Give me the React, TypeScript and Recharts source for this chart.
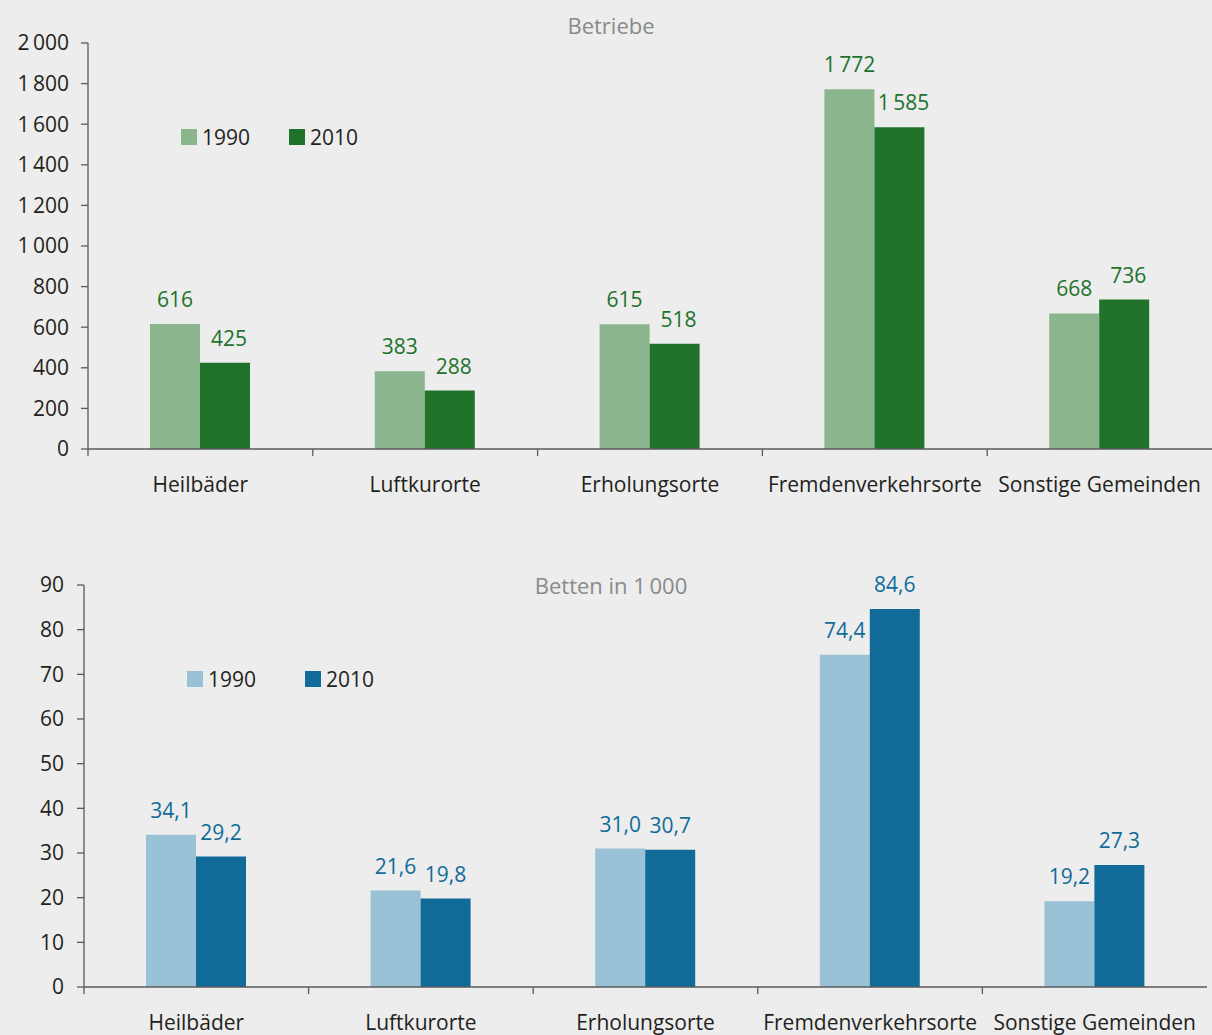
import React from 'react'
import { BarChart, Bar, XAxis, YAxis, Legend, LabelList } from 'recharts'

const categories = ['Heilbäder', 'Luftkurorte', 'Erholungsorte', 'Fremdenverkehrsorte', 'Sonstige Gemeinden']
const seriesNames = ['1990', '2010']

const betriebe1990 = [616, 383, 615, 1772, 668]
const betriebe2010 = [425, 288, 518, 1585, 736]
const betriebeTicks = [0, 200, 400, 600, 800, 1000, 1200, 1400, 1600, 1800, 2000]

const betten1990 = [34.1, 21.6, 31.0, 74.4, 19.2]
const betten2010 = [29.2, 19.8, 30.7, 84.6, 27.3]
const bettenTicks = [0, 10, 20, 30, 40, 50, 60, 70, 80, 90]

const W = 1212
const FONT = '"Open Sans", "Noto Sans", sans-serif'
const TEXT = '#231f20'
const AXIS = '#5a5a5a'

const fmtThousands = (v: number) =>
  v >= 1000 ? `${Math.floor(v / 1000)}\u2009${String(v % 1000).padStart(3, '0')}` : String(v)
const fmtDecimal = (v: number) => v.toFixed(1).replace('.', ',')
const fmtInt = (v: number) => String(v)

const betriebeData = categories.map((name, i) => ({ name, a: betriebe1990[i], b: betriebe2010[i] }))
const bettenData = categories.map((name, i) => ({ name, a: betten1990[i], b: betten2010[i] }))

// category label plus a tick mark at the left edge of each band
function CategoryTick(props: any) {
  const { x, y, payload, band } = props
  return (
    <g>
      <line x1={x - band / 2} x2={x - band / 2} y1={y - 28} y2={y - 21} stroke={AXIS} strokeWidth={1.3} />
      <text x={x} y={y} dy="0.71em" textAnchor="middle" fill={TEXT} fontSize={21} fontFamily={FONT}>
        {payload.value}
      </text>
    </g>
  )
}

function LegendBox({ colors, gap }: { colors: string[]; gap: number }) {
  return (
    <div style={{ display: 'flex', alignItems: 'center', fontFamily: FONT, fontSize: 21, color: TEXT }}>
      {seriesNames.map((s, i) => (
        <div key={s} style={{ display: 'flex', alignItems: 'center', marginRight: i === 0 ? gap : 0 }}>
          <span style={{ width: 16, height: 16, background: colors[i], display: 'inline-block', marginRight: 5 }} />
          <span style={{ lineHeight: '22px' }}>{s}</span>
        </div>
      ))}
    </div>
  )
}

interface PanelProps {
  data: { name: string; a: number; b: number }[]
  height: number
  top: number
  right: number
  xHeight: number
  yWidth: number
  ticks: number[]
  domain: [number, number]
  fmt: (v: number) => string
  tickFmt: (v: number) => string
  colors: string[]
  labelColor: string
  legendPos: { left: number; top: number; gap: number }
  dx2: number
  tickMargin: number
}

function Panel(p: PanelProps) {
  const band = (W - p.yWidth - p.right) / categories.length
  return (
    <BarChart
      width={W}
      height={p.height}
      data={p.data}
      margin={{ top: p.top, right: p.right, left: 0, bottom: 0 }}
      barGap={0}
    >
      <XAxis
        dataKey="name"
        height={p.xHeight}
        tickSize={0}
        tickMargin={28}
        tickLine={false}
        axisLine={{ stroke: AXIS, strokeWidth: 1.3 }}
        interval={0}
        tick={<CategoryTick band={band} />}
      />
      <YAxis
        width={p.yWidth}
        domain={p.domain}
        ticks={p.ticks}
        interval={0}
        tickSize={7}
        tickMargin={p.tickMargin}
        tickFormatter={p.tickFmt}
        axisLine={{ stroke: AXIS, strokeWidth: 1.3 }}
        tickLine={{ stroke: AXIS, strokeWidth: 1.3 }}
        tick={{ fill: TEXT, fontSize: 21, fontFamily: FONT }}
      />
      <Legend
        layout="horizontal"
        verticalAlign="middle"
        align="center"
        wrapperStyle={{ left: p.legendPos.left, top: p.legendPos.top, width: 'auto', height: 'auto' }}
        content={() => <LegendBox colors={p.colors} gap={p.legendPos.gap} />}
      />
      <Bar dataKey="a" name={seriesNames[0]} fill={p.colors[0]} barSize={50} isAnimationActive={false}>
        <LabelList
          dataKey="a"
          position="top"
          offset={17}
          formatter={(v: any) => p.fmt(Number(v))}
          style={{ fill: p.labelColor, fontSize: 21, fontFamily: FONT }}
        />
      </Bar>
      <Bar dataKey="b" name={seriesNames[1]} fill={p.colors[1]} barSize={50} isAnimationActive={false}>
        <LabelList
          dataKey="b"
          position="top"
          offset={17}
          dx={p.dx2}
          formatter={(v: any) => p.fmt(Number(v))}
          style={{ fill: p.labelColor, fontSize: 21, fontFamily: FONT }}
        />
      </Bar>
    </BarChart>
  )
}

const titleStyle: React.CSSProperties = {
  position: 'absolute',
  left: 411,
  width: 400,
  textAlign: 'center',
  fontFamily: FONT,
  fontSize: 22,
  color: '#8a8a8a',
  height: 30,
  lineHeight: '30px',
}

export default function App() {
  return (
    <div
      style={{
        position: 'absolute',
        left: 0,
        top: 0,
        width: W,
        height: 1035,
        background: '#ecedec',
        overflow: 'hidden',
        fontFamily: FONT,
      }}
    >
      <div style={{ position: 'absolute', left: 0, top: 0 }}>
        <Panel
          data={betriebeData}
          height={520}
          top={43}
          right={0}
          xHeight={71}
          yWidth={88}
          ticks={betriebeTicks}
          domain={[0, 2000]}
          fmt={fmtThousands}
          tickFmt={fmtThousands}
          colors={['#8bb68d', '#21732c']}
          labelColor="#21732c"
          legendPos={{ left: 181, top: 126, gap: 39 }}
          dx2={4}
          tickMargin={12}
        />
      </div>
      <div style={{ position: 'absolute', left: 0, top: 520 }}>
        <Panel
          data={bettenData}
          height={515}
          top={65}
          right={5}
          xHeight={48}
          yWidth={84}
          ticks={bettenTicks}
          domain={[0, 90]}
          fmt={fmtDecimal}
          tickFmt={fmtInt}
          colors={['#9ac2d6', '#116b99']}
          labelColor="#116b99"
          legendPos={{ left: 187, top: 148, gap: 49 }}
          dx2={0}
          tickMargin={13}
        />
      </div>
      <div style={{ ...titleStyle, top: 10 }}>Betriebe</div>
      <div style={{ ...titleStyle, top: 570 }}>Betten in 1&#8201;000</div>
    </div>
  )
}
